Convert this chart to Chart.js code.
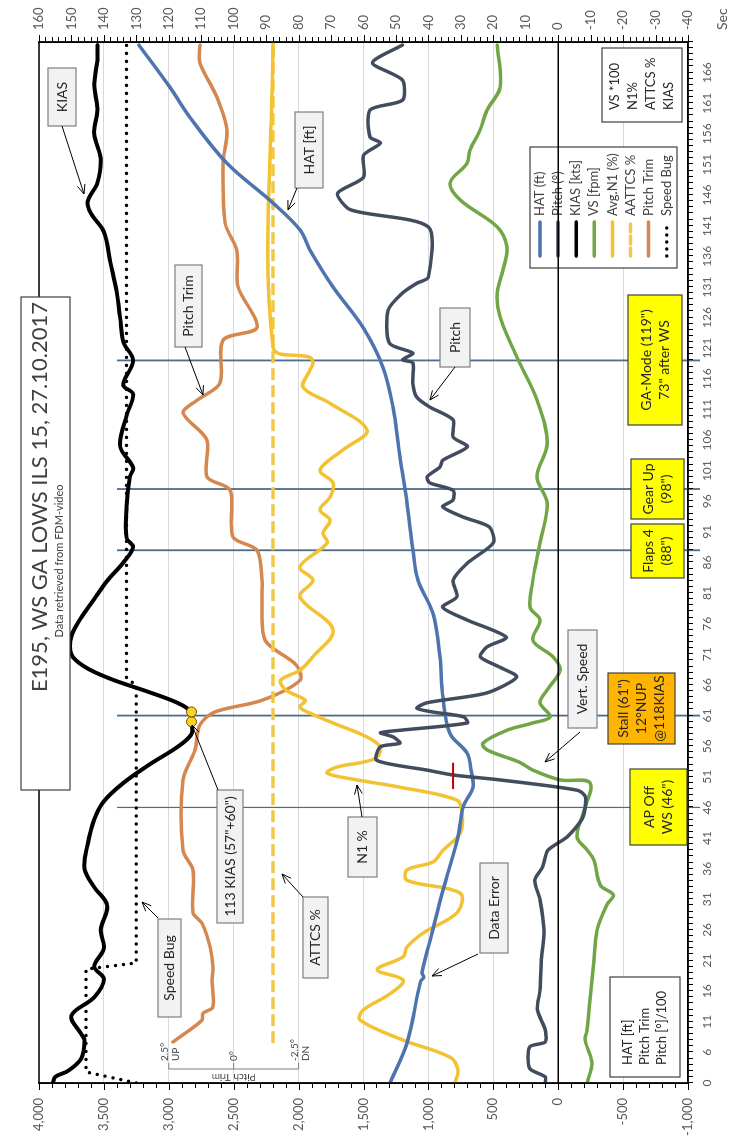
<!DOCTYPE html>
<html><head><meta charset="utf-8">
<script src="https://cdn.jsdelivr.net/npm/chart.js@4/dist/chart.umd.min.js"></script>
<style>
html,body{margin:0;padding:0;background:#fff;}
#page{position:relative;width:731px;height:1136px;overflow:hidden;background:#fff;}
#rot{position:absolute;left:0;top:0;width:1136px;height:731px;transform-origin:0 0;transform:translate(0px,1136px) rotate(-90deg);}
canvas{display:block;}
</style></head><body>
<div id="page"><div id="rot"><canvas id="c" width="1136" height="731"></canvas></div></div>
<script>
// ---------- data (time in seconds as labelled on the time axis) ----------
const timeTicks = [1,6,11,16,21,26,31,36,41,46,51,56,61,66,71,76,81,86,91,96,101,106,111,116,121,126,131,136,141,146,151,156,161,166];
const timeLabels = ['0','6','11','16','21','26','31','36','41','46','51','56','61','66','71','76','81','86','91','96','101','106','111','116','121','126','131','136','141','146','151','156','161','166'];
const events = [46,61,88,98,119];

const hatTime = [1,7.5,17.6,18.3,19,25.5,32.5,41.2,46.1,49.3,52,54.9,58.1,64,70.6,77.7,83.1,88,95.7,103.2,111.4,117.9,124.4,131,137,140.3,144.7,151.2,158.7,163.6,170.5];
const hatFt   = [1296,1165,1060,1035,1050,972,888,772,733,657,670,703,834,888,911,965,1080,1119,1165,1219,1273,1350,1504,1735,1912,1989,2197,2552,2837,2991,3230];

const pitchTime = [1,2,3.4,6.9,7.7,9.7,12.9,16.2,21.1,26,30.9,34.1,36.3,39,41.2,44.4,47.7,48.8,50.5,51.3,52.1,53.7,55.9,56.5,57.5,58.2,58.6,59.8,60.8,61.6,62.2,63.1,64.7,67.3,68.9,70.6,72.2,73.8,76.6,78.7,80.4,83.1,85.9,89.2,91.8,93.4,95.1,96.2,97.8,99,100,101.6,102.7,104.9,106.5,109.3,111.4,113,115.3,118.6,119.1,120.2,121.8,127.2,130,131.6,132.6,140.8,143.6,146.3,148.9,152.5,154.5,155.5,159.9,161.5,164.8,167.6,170.5];
const pitchDeg  = [1.0,1.0,2.2,2.2,1.0,1.0,1.6,1.4,1.3,1.1,1.4,1.8,1.2,0.8,-0.7,-1.9,-2.1,-1.5,4.5,8.1,10.1,14.0,13.7,12.2,12.7,13.7,12.2,7.0,7.3,9.7,10.9,10.1,5.5,3.2,4.5,6.0,5.5,4.0,7.0,8.9,7.8,8.1,7.0,5.0,5.3,7.3,8.9,8.1,8.1,9.9,10.1,9.1,8.9,7.0,8.1,8.1,9.9,10.9,11.2,11.2,12.0,11.2,13.0,13.1,12.0,10.9,10.0,10.0,16.0,17.0,15.0,15.0,13.7,14.5,14.5,12.0,12.0,14.3,12.0];

const kiasTime = [1,2,3,5,8,9,12,15,18,20,23,26,30,33,36,40,44,47,50,53,56,58,60,61.5,63,65,67,69,71,74,77,80,83,86,88.5,90,95,100,101.5,105,110,113.5,115,119,122,126,130,135,140,143,145,148,152,156,160,164,168,170.5];
const kiasKts  = [155.7,155,151,147,146,147,150,143,140,143,140,141,139,143,146,145,143,140,134,126,117,113,113,113,117,127,138,146,150,150,147,143,139,134,131,133,133,132,131,135,133,131,134,131,134,135,136,138,140,144,145,142,141,143,142,143,142,142];

const vsTime = [1,4.3,8,9.7,14.6,21.1,26,30.1,31.7,33.3,37.4,39,41.2,45.1,50,50.5,52.1,53.4,55.4,56.5,58.6,59.8,60.8,63.1,65.2,68.4,70.6,73.3,76.6,78.7,83.1,85.3,89.2,95.7,100,105.5,112.5,119.5,126.1,130,133.8,137.5,140.8,145.2,148,151.2,153.3,156.6,159.9,163.6,170.5];
const vsFpm  = [-890,-1040,-830,-890,-980,-1100,-1200,-1500,-1700,-1300,-1100,-900,-580,-770,-980,-60,780,1200,2190,2320,1580,780,250,560,340,-60,160,780,560,870,780,710,560,340,650,340,650,1270,1790,1880,1700,1580,1880,3020,3330,2810,2720,2410,2190,1790,1880];

const n1Time = [1,3.1,5.2,8,11.3,12.9,15.5,17.8,19.5,21.6,23.2,25.5,28.8,32,34.1,35.8,37.1,39,41.8,45.1,47.2,49.3,50.5,51.6,52.6,53.4,54.2,55.9,57.5,59.8,61.4,62.4,63.5,65.2,66.8,68.4,70.6,75,80.4,83.1,85.3,89.2,90.8,92.9,94.6,96.7,99,101.1,104.4,107.6,112,114.6,117.4,118.6,119.5,121.2,171];
const n1Pct  = [31.8,30.9,33.3,47.8,61.1,60.1,52,47.8,55.8,47.8,46.6,41.6,31.2,30.2,46.6,46.6,38.6,35.5,30.2,29.6,31.2,48.7,62.0,71.2,68.2,60.1,55.8,54.9,58.9,69.4,76.5,79.6,78,84,85.5,79.6,75.6,69.4,79.6,75.6,79.6,71.2,72.5,70.3,73.4,70.3,69.4,73.4,66.3,58.9,70.3,78.6,76.5,75.6,76.5,87.9,87.9];

const attcsTime = [7.5,171];
const attcsPct  = [87.9,87.9];

const trimTime = [7.7,9.7,11.3,12.4,13.4,17.8,19.9,23.2,27.1,28.8,35.8,39,50.5,55.4,59.5,61.6,63.5,66.8,69.3,73.3,79.9,83.1,88,90.2,97.8,100,106,110.4,112.5,115.3,122.3,124.4,131,137,141.4,151.2,156.6,162,167.6,170.5];
const trimDeg  = [2.34,1.68,1.22,1.18,0.80,0.84,0.80,0.91,1.22,1.57,1.57,1.95,1.95,1.49,1.30,0.72,-1.09,-2.56,-2.4,-1.21,-1.09,-1.09,-0.90,0.03,0.14,1.03,1.03,1.95,1.41,0.53,0.41,-0.90,-0.17,-0.12,0.33,0.41,0.26,0.65,1.30,1.30];

const bugTime = [1,2.8,19.6,20.6,66,67,171];
const bugKts  = [130,145.5,145.5,130,130,133,133];

const errTime = [49,53.3];
const errFt   = [810,810];

const dotTime = [60,61.6];
const dotKts  = [113,113];

// ---------- helpers ----------
const pts = (T,V,f) => T.map((t,i)=>({x:t,y:f?f(V[i]):V[i]}));
const FONT = "Lato, 'Open Sans', 'DejaVu Sans', sans-serif";
const C = {hat:'#4E74B0', pitch:'#414D5E', kias:'#000000', vs:'#70A646', n1:'#F2C232', attcs:'#EFC94A', trim:'#D4884F'};

function line(label,data,color,axis,extra){
  return Object.assign({type:'line',label,data,borderColor:color,backgroundColor:color,yAxisID:axis,
    borderWidth:3.5,pointRadius:0,tension:0.35,fill:false,borderCapStyle:'round',borderJoinStyle:'round'},extra||{});
}

function arrow(ctx,x1,y1,x2,y2){
  ctx.beginPath();ctx.moveTo(x1,y1);ctx.lineTo(x2,y2);ctx.stroke();
  const a=Math.atan2(y2-y1,x2-x1),L=10,s=0.4;
  ctx.beginPath();
  ctx.moveTo(x2-L*Math.cos(a-s),y2-L*Math.sin(a-s));ctx.lineTo(x2,y2);ctx.lineTo(x2-L*Math.cos(a+s),y2-L*Math.sin(a+s));
  ctx.stroke();
}
function tbox(ctx,x1,y1,x2,y2,fill,stroke,lines,size,lh,align){
  ctx.fillStyle=fill;ctx.fillRect(x1,y1,x2-x1,y2-y1);
  ctx.strokeStyle=stroke;ctx.lineWidth=1.2;ctx.strokeRect(x1,y1,x2-x1,y2-y1);
  ctx.fillStyle='#262626';ctx.font=size+'px '+FONT;ctx.textBaseline='middle';
  const cy=(y1+y2)/2;
  lines.forEach((t,i)=>{
    const yy=cy+(i-(lines.length-1)/2)*lh;
    if(align==='left'){ctx.textAlign='left';ctx.fillText(t,x1+12,yy);}
    else{ctx.textAlign='center';ctx.fillText(t,(x1+x2)/2,yy);}
  });
}

const decor = {
  id:'decor',
  beforeDatasetsDraw(chart){
    const {ctx,chartArea:a,scales:{x,y}}=chart;
    ctx.save();
    ctx.strokeStyle='#4F6A88';
    events.forEach((t,i)=>{
      const px=x.getPixelForValue(t);
      ctx.lineWidth = i===0?1.2:1.8;
      ctx.beginPath();ctx.moveTo(px,y.getPixelForValue(3400));ctx.lineTo(px,a.bottom+12);ctx.stroke();
    });
    ctx.restore();
  },
  afterDraw(chart){
    const {ctx,chartArea:a,scales:{x,y,y2}}=chart;
    ctx.save();
    // tick marks
    ctx.strokeStyle='#000';ctx.lineWidth=1;ctx.beginPath();
    for(let t=1;t<=171;t++){const p=Math.round(x.getPixelForValue(t))+.5;ctx.moveTo(p,a.bottom);ctx.lineTo(p,a.bottom+5);}
    for(let v=-1000;v<=4000;v+=100){const p=Math.round(y.getPixelForValue(v))+.5;ctx.moveTo(a.left,p);ctx.lineTo(a.left-(v%500===0?7:5),p);}
    for(let v=-40;v<=160;v+=2){const p=Math.round(y2.getPixelForValue(v))+.5;ctx.moveTo(a.right,p);ctx.lineTo(a.right+(v%10===0?7:5),p);}
    ctx.stroke();
    ctx.lineWidth=1.5;ctx.strokeRect(a.left,a.top,a.right-a.left,a.bottom-a.top);

    ctx.fillStyle='#595959';ctx.font='14px '+FONT;ctx.textAlign='left';ctx.textBaseline='middle';
    ctx.fillText('Sec',1106,722);

    // pitch trim inset scale
    const p25=y.getPixelForValue(3000),p0=y.getPixelForValue(2500),pm=y.getPixelForValue(2000);
    ctx.strokeStyle='#7f7f7f';ctx.lineWidth=1;ctx.beginPath();
    ctx.moveTo(67,p25);ctx.lineTo(67,pm);
    [p25,p0,pm].forEach(p=>{ctx.moveTo(67,p);ctx.lineTo(73,p);});
    ctx.stroke();
    ctx.fillStyle='#404040';ctx.font='10px '+FONT;ctx.textAlign='left';
    ctx.fillText('2.5°',75,p25-4);ctx.fillText('UP',75,p25+7);
    ctx.fillText('0°',75,p0);
    ctx.fillText('-2.5°',75,pm-4);ctx.fillText('DN',75,pm+7);
    ctx.save();ctx.translate(59,p0);ctx.rotate(-Math.PI/2);ctx.textAlign='center';ctx.fillText('Pitch Trim',0,0);ctx.restore();

    // title box
    ctx.fillStyle='#fff';ctx.fillRect(346,21,493,49);ctx.strokeStyle='#404040';ctx.lineWidth=1.2;ctx.strokeRect(346,21,493,49);
    ctx.fillStyle='#404040';ctx.textBaseline='middle';
    ctx.font='22px '+FONT;ctx.textAlign='right';ctx.fillText('E195, WS GA LOWS ILS 15, 27.10.2017',834,40);
    ctx.font='11px '+FONT;ctx.textAlign='center';ctx.fillText('Data retrieved from FDM-video',575,59);

    // callouts
    const G='#F2F2F2',B='#7F7F7F';
    const callouts=[
      [1010,48,1068,76,['KIAS'],[1010,62,942,84]],
      [948,295,1024,323,['HAT [ft]'],[948,297,926,288]],
      [789,175,871,202,['Pitch Trim'],[789,185,741,203]],
      [769,440,828,470,['Pitch'],[769,455,736,430]],
      [408,568,506,597,['Vert. Speed'],[404,580,374,545]],
      [259,348,319,377,['N1 %'],[319,362,351,357]],
      [213,217,346,243,['113 KIAS (57"+60")'],[346,218,411,192]],
      [158,303,239,328,['ATTCS %'],[239,303,262,282]],
      [119,158,217,181,['Speed Bug'],[218,158,234,142]],
      [183,480,273,508,['Data Error'],[182,478,160,432]]
    ];
    callouts.forEach(c=>{
      tbox(ctx,c[0],c[1],c[2],c[3],G,B,c[4],14,16);
      ctx.strokeStyle='#000';ctx.lineWidth=1;arrow(ctx,...c[5]);
    });

    // event boxes
    const Y='#FFFF00';
    tbox(ctx,711,628,841,682,Y,'#404040',['GA-Mode (119")','73" after WS'],14,18);
    tbox(ctx,617,631,677,684,Y,'#404040',['Gear Up','(98")'],14,18);
    tbox(ctx,558,631,612,684,Y,'#404040',['Flaps 4','(88")'],14,18);
    tbox(ctx,392,608,463,675,'#FFB400','#404040',['Stall (61")','12°NUP','@118KIAS'],14,18);
    tbox(ctx,291,630,367,687,Y,'#404040',['AP Off','WS (46")'],14,18);

    // info boxes
    tbox(ctx,1014,602,1088,682,'#fff','#404040',['VS *100','N1%','ATTCS %','KIAS'],13,18,'left');
    tbox(ctx,59,610,159,680,'#fff','#404040',['HAT [ft]','Pitch Trim','Pitch [°]/100'],13,17,'left');

    // legend
    ctx.fillStyle='#fff';ctx.fillRect(868,530,121,147);ctx.strokeStyle='#404040';ctx.lineWidth=1.2;ctx.strokeRect(868,530,121,147);
    const leg=[['HAT (ft)',C.hat,[]],['Pitch (°)',C.pitch,[]],['KIAS [kts]',C.kias,[]],['VS [fpm]',C.vs,[]],['Avg.N1 (%)',C.n1,[]],['AATTCS %',C.attcs,[8,4]],['Pitch Trim',C.trim,[]],['Speed Bug','#000',[0,7]]];
    ctx.font='13px '+FONT;ctx.textAlign='left';ctx.textBaseline='middle';
    leg.forEach((l,i)=>{
      const yy=540+i*18.1;
      ctx.strokeStyle=l[1];ctx.lineWidth=3.5;ctx.lineCap='round';ctx.setLineDash(l[2]);
      ctx.beginPath();ctx.moveTo(880,yy);ctx.lineTo(914,yy);ctx.stroke();ctx.setLineDash([]);
      ctx.fillStyle='#404040';ctx.fillText(l[0],920,yy);
    });

    // zero line
    ctx.strokeStyle='#000';ctx.lineWidth=1.5;ctx.lineCap='butt';
    const z=y.getPixelForValue(0);
    ctx.beginPath();ctx.moveTo(a.left,z);ctx.lineTo(a.right,z);ctx.stroke();
    ctx.restore();
  }
};

const datasets = [
  {type:'line',label:'dots',data:pts(dotTime,dotKts),yAxisID:'y2',showLine:false,pointRadius:5,pointBackgroundColor:'#FFD21F',pointBorderColor:'#6B5300',pointBorderWidth:1},
  line('err',pts(errTime,errFt),'#C00000','y',{borderWidth:2,tension:0,borderCapStyle:'butt'}),
  line('KIAS [kts]',pts(kiasTime,kiasKts),C.kias,'y2',{borderWidth:4}),
  line('Pitch (°)',pts(pitchTime,pitchDeg,v=>v*100),C.pitch,'y',{tension:0.25}),
  line('HAT (ft)',pts(hatTime,hatFt),C.hat,'y'),
  line('VS [fpm]',pts(vsTime,vsFpm,v=>v/100),C.vs,'y2'),
  line('Avg.N1 (%)',pts(n1Time,n1Pct),C.n1,'y2'),
  line('AATTCS %',pts(attcsTime,attcsPct),C.attcs,'y2',{borderDash:[12,5],borderCapStyle:'butt',borderWidth:3.5,tension:0}),
  line('Pitch Trim',pts(trimTime,trimDeg,v=>2500+200*v),C.trim,'y',{tension:0.3}),
  line('Speed Bug',pts(bugTime,bugKts),'#000','y2',{borderDash:[0,8],borderWidth:3.5,tension:0})
];

new Chart(document.getElementById('c'),{
  type:'line',
  data:{datasets},
  options:{
    responsive:false,maintainAspectRatio:false,animation:false,
    layout:{padding:{top:39,left:0,right:0,bottom:0}},
    plugins:{legend:{display:false},tooltip:{enabled:false}},
    scales:{
      x:{type:'linear',position:'bottom',min:1,max:171,
        afterBuildTicks:s=>{s.ticks=timeTicks.map(v=>({value:v}));},
        afterFit:s=>{s.height=43;},
        ticks:{autoSkip:false,maxRotation:0,padding:12,color:'#595959',font:{family:"'Liberation Sans Narrow', Lato, sans-serif",size:12},
          callback:v=>timeLabels[timeTicks.indexOf(v)]},
        grid:{display:false,drawTicks:false},border:{display:true,color:'#000',width:1.5}},
      y:{type:'linear',position:'left',min:-1000,max:4000,
        afterBuildTicks:s=>{const t=[];for(let v=-1000;v<=4000;v+=500)t.push({value:v});s.ticks=t;},
        afterFit:s=>{s.width=53;},
        ticks:{padding:15,color:'#595959',font:{family:FONT,size:13},callback:v=>v.toLocaleString('en-US')},
        grid:{drawTicks:false,color:c=>c.tick&&c.tick.value===0?'rgba(0,0,0,0)':'#D9D9D9',lineWidth:1},
        border:{display:true,color:'#000',width:1.5}},
      y2:{type:'linear',position:'right',min:-40,max:160,
        afterBuildTicks:s=>{const t=[];for(let v=-40;v<=160;v+=10)t.push({value:v});s.ticks=t;},
        afterFit:s=>{s.width=42;},
        ticks:{padding:12,color:'#595959',font:{family:FONT,size:13}},
        grid:{display:false,drawTicks:false},border:{display:true,color:'#000',width:1.5}}
    }
  },
  plugins:[decor]
});
</script>
</body></html>
